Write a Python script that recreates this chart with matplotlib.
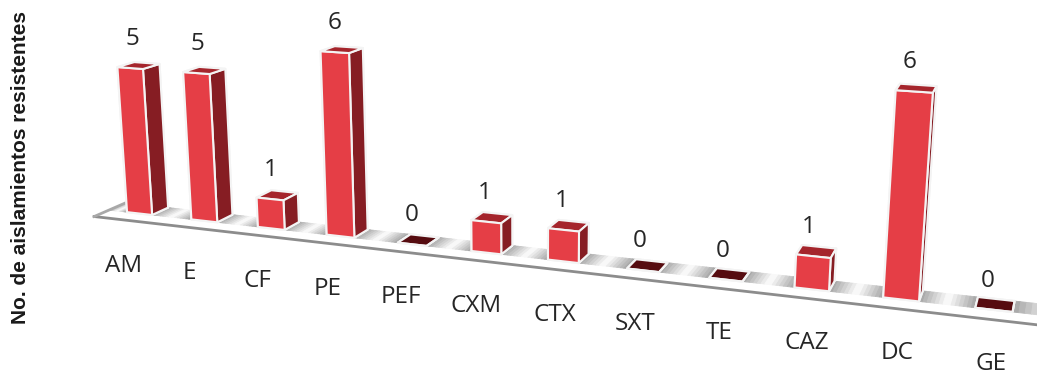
import numpy as np
import matplotlib
matplotlib.use("Agg")
import matplotlib.pyplot as plt
from mpl_toolkits.mplot3d import proj3d
from mpl_toolkits.mplot3d.art3d import Poly3DCollection

categories = ["AM","E","CF","PE","PEF","CXM","CTX","SXT","TE","CAZ","DC","GE"]
values = [5,5,1,6,0,1,1,0,0,1,6,0]

W,H = 1037,376
ELEV,AZIM,FOCAL = 14.20385,-69.74238,0.28616
BOX_Y,BOX_Z = 0.70445,2.37628
SCALE,TX,TY = 5352.94387,526.30149,162.19333
X0,BW,YF,BD = 0.28771,0.39304,0.47033,0.54218
FRONT,SIDE,TOP,ZERO = '#e53e46','#861d23','#a5252c','#560c10'

plt.rcParams['font.family'] = ['Open Sans','DejaVu Sans']
fig = plt.figure(figsize=(W/100,H/100),dpi=100)
ax = fig.add_axes([0,0,1,1],projection='3d',proj_type='persp',focal_length=FOCAL)
ax.set_axis_off()
ax.computed_zorder = False
ax.view_init(elev=ELEV,azim=AZIM)
ax.set_box_aspect((12,BOX_Y,BOX_Z))
xl,yl = ax.viewLim.intervalx, ax.viewLim.intervaly
ax.set_position([(TX+SCALE*xl[0])/W,(H-TY+SCALE*yl[0])/H,SCALE*(xl[1]-xl[0])/W,SCALE*(yl[1]-yl[0])/H])

n = len(values)
xs = np.arange(n)+X0
# floor: gradient strips between the bars
edges = [0.0]+[v for x in xs for v in (x,x+BW)]+[12.6]
for k in range(0,len(edges),2):
    a,b = edges[k],edges[k+1]
    t = np.linspace(0,1,15)
    polys,cols = [],[]
    for j in range(14):
        u,v = a+(b-a)*t[j],a+(b-a)*t[j+1]
        polys.append([(u,YF,0),(v,YF,0),(v,YF+BD,0),(u,YF+BD,0)])
        g = 0.64+0.36*(1-abs((t[j]+t[j+1])-1))
        cols.append((g,g,g))
    ax.add_collection3d(Poly3DCollection(polys,facecolors=cols,edgecolors=cols,linewidths=0.6,zorder=1))
ax.plot([0,12.6],[0,0],[0,0],color='#8c8c8c',lw=2,zorder=2)
ax.plot([0,0],[0,1],[0,0],color='#a8a8a8',lw=2,zorder=2)
for i,v in enumerate(values):
    cols = [ZERO]*6 if v==0 else [SIDE,TOP,FRONT,SIDE,SIDE,SIDE]
    ax.bar3d(xs[i],YF,0,BW,BD,v,color=cols,edgecolor='#f4f4f4',linewidth=1.5,shade=False,zorder=3+i)
ax.set_xlim(0,12,view_margin=0);ax.set_ylim(0,1,view_margin=0);ax.set_zlim(0,6,view_margin=0)
for art in ax.collections+ax.lines:
    art.set_clip_on(False)
M = ax.get_proj()
for i,v in enumerate(values):
    cx = xs[i]+BW/2
    X,Y,_ = proj3d.proj_transform(cx,YF,0,M)
    ax.annotate(categories[i],xy=(X,Y),xycoords='data',xytext=(-16+1.2*i,-(52+0.2*i)),textcoords='offset pixels',ha='center',va='center',fontsize=17.5,color='#262626',zorder=20,annotation_clip=False)
    X,Y,_ = proj3d.proj_transform(cx,YF,v,M)
    ax.annotate(str(v),xy=(X,Y),xycoords='data',xytext=(2-0.7*i,29),textcoords='offset pixels',ha='center',va='center',fontsize=17.5,color='#262626',zorder=20,annotation_clip=False)
fig.text(21/W,1-168/H,"No. de aislamientos resistentes",rotation=90,ha='center',va='center',fontsize=15,fontweight='bold',family='Liberation Sans',color='#1a1a1a')
fig.savefig("out.png",dpi=100)
